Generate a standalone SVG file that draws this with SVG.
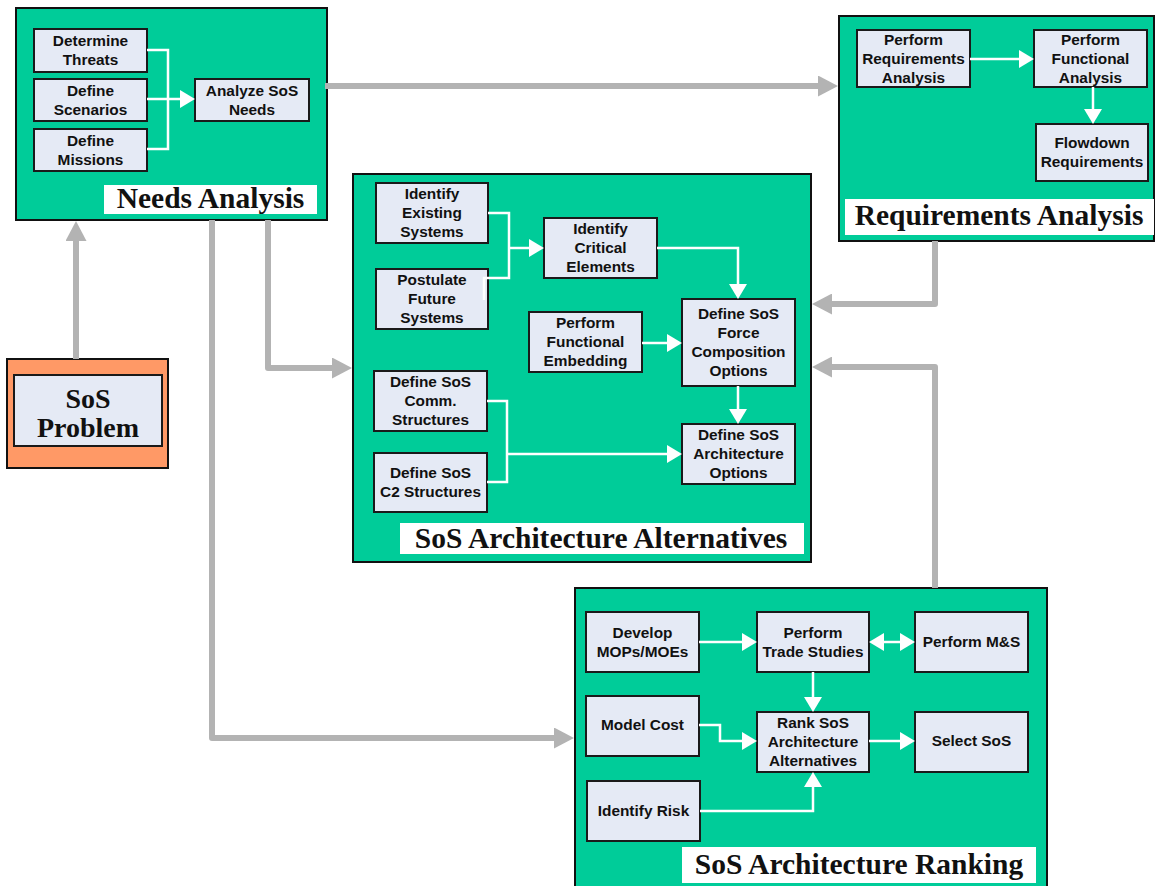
<svg xmlns="http://www.w3.org/2000/svg" width="1156" height="886" viewBox="0 0 1156 886">
<style>
.cont{fill:#00CC99;stroke:#111;stroke-width:2}
.box{fill:#E5EAF5;stroke:#1a1a1a;stroke-width:2}
.lbl{fill:#fff}
.t{font-family:"Liberation Sans",Arial,sans-serif;font-weight:bold;font-size:15.4px;fill:#111;text-anchor:middle}
.big{font-family:"Liberation Serif","Times New Roman",serif;font-weight:bold;font-size:29.5px;fill:#111;text-anchor:middle}
.g{fill:none;stroke:#B3B3B3;stroke-width:6;stroke-linejoin:round;stroke-linecap:butt}
.w{fill:none;stroke:#fff;stroke-width:2.5;stroke-linejoin:miter}
</style>
<defs>
<marker id="ga" viewBox="0 0 20 21" refX="0" refY="10.5" markerWidth="20" markerHeight="21" markerUnits="userSpaceOnUse" orient="auto"><path d="M0,0 L20,10.5 L0,21 Z" fill="#B3B3B3"/></marker>
<marker id="wa" viewBox="0 0 15 18" refX="0" refY="9" markerWidth="15" markerHeight="18" markerUnits="userSpaceOnUse" orient="auto-start-reverse"><path d="M0,0 L15,9 L0,18 Z" fill="#fff"/></marker>
</defs>

<g id="needs-analysis">
<rect class="cont" x="16" y="8" width="311" height="212"/>
<rect class="lbl" x="104" y="185" width="213" height="29"/>
<text class="big" x="210.5" y="208">Needs Analysis</text>
</g>
<g id="determine-threats"><rect class="box" x="34" y="29" width="113" height="43"/><text class="t" x="90.5" y="46.4">Determine<tspan x="90.5" dy="19">Threats</tspan></text></g>
<g id="define-scenarios"><rect class="box" x="34" y="79" width="113" height="42"/><text class="t" x="90.5" y="95.9">Define<tspan x="90.5" dy="19">Scenarios</tspan></text></g>
<g id="define-missions"><rect class="box" x="34" y="129" width="113" height="42"/><text class="t" x="90.5" y="145.9">Define<tspan x="90.5" dy="19">Missions</tspan></text></g>
<g id="analyze-sos-needs"><rect class="box" x="195" y="79" width="114" height="42"/><text class="t" x="252" y="95.9">Analyze SoS<tspan x="252" dy="19">Needs</tspan></text></g>

<g id="requirements-analysis">
<rect class="cont" x="839" y="16" width="315" height="225"/>
<rect class="lbl" x="845" y="199" width="309" height="36"/>
<text class="big" x="999" y="225">Requirements Analysis</text>
</g>
<g id="perform-requirements-analysis"><rect class="box" x="857" y="30" width="113" height="57"/><text class="t" x="913.5" y="44.9">Perform<tspan x="913.5" dy="19">Requirements</tspan><tspan x="913.5" dy="19">Analysis</tspan></text></g>
<g id="perform-functional-analysis"><rect class="box" x="1034" y="30" width="113" height="57"/><text class="t" x="1090.5" y="44.9">Perform<tspan x="1090.5" dy="19">Functional</tspan><tspan x="1090.5" dy="19">Analysis</tspan></text></g>
<g id="flowdown-requirements"><rect class="box" x="1036" y="124" width="112" height="57"/><text class="t" x="1092" y="148.4">Flowdown<tspan x="1092" dy="19">Requirements</tspan></text></g>

<g id="sos-architecture-alternatives">
<rect class="cont" x="353" y="174" width="458" height="388"/>
<rect class="lbl" x="400" y="523" width="404" height="31"/>
<text class="big" x="601" y="548">SoS Architecture Alternatives</text>
</g>
<g id="identify-existing-systems"><rect class="box" x="376" y="183" width="112" height="60"/><text class="t" x="432" y="199.4">Identify<tspan x="432" dy="19">Existing</tspan><tspan x="432" dy="19">Systems</tspan></text></g>
<g id="postulate-future-systems"><rect class="box" x="376" y="269" width="112" height="60"/><text class="t" x="432" y="285.4">Postulate<tspan x="432" dy="19">Future</tspan><tspan x="432" dy="19">Systems</tspan></text></g>
<g id="identify-critical-elements"><rect class="box" x="544" y="218" width="113" height="60"/><text class="t" x="600.5" y="234.4">Identify<tspan x="600.5" dy="19">Critical</tspan><tspan x="600.5" dy="19">Elements</tspan></text></g>
<g id="perform-functional-embedding"><rect class="box" x="529" y="312" width="113" height="60"/><text class="t" x="585.5" y="328.4">Perform<tspan x="585.5" dy="19">Functional</tspan><tspan x="585.5" dy="19">Embedding</tspan></text></g>
<g id="define-sos-force-composition-options"><rect class="box" x="682" y="299" width="113" height="87"/><text class="t" x="738.5" y="319.4">Define SoS<tspan x="738.5" dy="19">Force</tspan><tspan x="738.5" dy="19">Composition</tspan><tspan x="738.5" dy="19">Options</tspan></text></g>
<g id="define-sos-comm-structures"><rect class="box" x="374" y="371" width="113" height="60"/><text class="t" x="430.5" y="387.4">Define SoS<tspan x="430.5" dy="19">Comm.</tspan><tspan x="430.5" dy="19">Structures</tspan></text></g>
<g id="define-sos-c2-structures"><rect class="box" x="374" y="453" width="113" height="59"/><text class="t" x="430.5" y="478.4">Define SoS<tspan x="430.5" dy="19">C2 Structures</tspan></text></g>
<g id="define-sos-architecture-options"><rect class="box" x="682" y="424" width="113" height="60"/><text class="t" x="738.5" y="440.4">Define SoS<tspan x="738.5" dy="19">Architecture</tspan><tspan x="738.5" dy="19">Options</tspan></text></g>

<g id="sos-architecture-ranking">
<rect class="cont" x="575" y="588" width="472" height="304"/>
<rect class="lbl" x="682" y="847" width="354" height="36"/>
<text class="big" x="859" y="874">SoS Architecture Ranking</text>
</g>
<g id="develop-mops-moes"><rect class="box" x="586" y="612" width="113" height="60"/><text class="t" x="642.5" y="637.9">Develop<tspan x="642.5" dy="19">MOPs/MOEs</tspan></text></g>
<g id="perform-trade-studies"><rect class="box" x="757" y="612" width="112" height="60"/><text class="t" x="813" y="637.9">Perform<tspan x="813" dy="19">Trade Studies</tspan></text></g>
<g id="perform-ms"><rect class="box" x="915" y="612" width="113" height="60"/><text class="t" x="971.5" y="646.5">Perform M&amp;S</text></g>
<g id="model-cost"><rect class="box" x="586" y="696" width="113" height="60"/><text class="t" x="642.5" y="729.5">Model Cost</text></g>
<g id="rank-sos-architecture-alternatives"><rect class="box" x="757" y="712" width="112" height="60"/><text class="t" x="813" y="728.4">Rank SoS<tspan x="813" dy="19">Architecture</tspan><tspan x="813" dy="19">Alternatives</tspan></text></g>
<g id="select-sos"><rect class="box" x="915" y="712" width="113" height="60"/><text class="t" x="971.5" y="745.5">Select SoS</text></g>
<g id="identify-risk"><rect class="box" x="587" y="781" width="113" height="60"/><text class="t" x="643.5" y="816">Identify Risk</text></g>

<g id="sos-problem">
<rect x="7" y="359" width="161" height="109" fill="#FF9966" stroke="#111" stroke-width="2"/>
<rect class="box" x="14" y="375" width="148" height="71"/>
<text class="big" style="font-size:28px" x="88" y="408">SoS</text>
<text class="big" style="font-size:28px" x="88" y="437">Problem</text>
</g>

<g id="connectors">
<path class="g" d="M76,359 V241" marker-end="url(#ga)"/>
<path class="g" d="M325,86 H818" marker-end="url(#ga)"/>
<path class="g" d="M268,220 V368 H332" marker-end="url(#ga)"/>
<path class="g" d="M212,220 V738 H554" marker-end="url(#ga)"/>
<path class="g" d="M935,241 V304 H832" marker-end="url(#ga)"/>
<path class="g" d="M935,588 V367 H832" marker-end="url(#ga)"/>

<path class="w" d="M147,50 H168 V149 H147"/>
<path class="w" d="M147,99 H180" marker-end="url(#wa)"/>
<path class="w" d="M970,59 H1019" marker-end="url(#wa)"/>
<path class="w" d="M1093,87 V109" marker-end="url(#wa)"/>

<path class="w" d="M488,213 H509 V278 H484 V300"/>
<path class="w" d="M509,248 H529" marker-end="url(#wa)"/>
<path class="w" d="M657,248 H738 V284" marker-end="url(#wa)"/>
<path class="w" d="M642,343 H667" marker-end="url(#wa)"/>
<path class="w" d="M738,386 V409" marker-end="url(#wa)"/>
<path class="w" d="M487,401 H507 V482 H487"/>
<path class="w" d="M507,454 H667" marker-end="url(#wa)"/>

<path class="w" d="M699,642 H742" marker-end="url(#wa)"/>
<path class="w" d="M884,642 H900" marker-start="url(#wa)" marker-end="url(#wa)"/>
<path class="w" d="M813,672 V697" marker-end="url(#wa)"/>
<path class="w" d="M699,725 H720 V741 H742" marker-end="url(#wa)"/>
<path class="w" d="M869,741 H900" marker-end="url(#wa)"/>
<path class="w" d="M700,811 H813 V787" marker-end="url(#wa)"/>
</g>
</svg>
